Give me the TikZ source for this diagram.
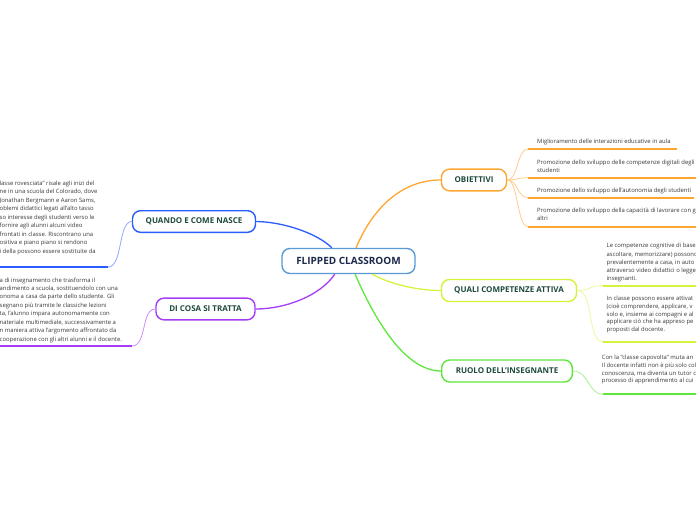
\documentclass[tikz,border=0pt]{standalone}
\usepackage{fontspec}
\setmainfont{Open Sans}
\usetikzlibrary{calc}
\definecolor{labelc}{HTML}{1E4A3C}
\definecolor{centrec}{HTML}{1B2A4A}
\definecolor{textc}{HTML}{3A3A3A}
\definecolor{cblue}{HTML}{5B9BD5}
\definecolor{qblue}{HTML}{2B5CFF}
\definecolor{qbluel}{HTML}{8AA8FF}
\definecolor{dpur}{HTML}{A63CF5}
\definecolor{dpurl}{HTML}{D08CFA}
\definecolor{oor}{HTML}{FFA630}
\definecolor{oorl}{HTML}{FFCD8A}
\definecolor{qyel}{HTML}{D8F23C}
\definecolor{qyell}{HTML}{EAF8A0}
\definecolor{rgrn}{HTML}{5EE63C}
\definecolor{rgrnl}{HTML}{A8F090}
\begin{document}
\begin{tikzpicture}[x=1pt,y=-1pt,
  topic/.style={draw, line width=1.4pt, rounded corners=8pt, fill=white, inner sep=0pt,
    font=\fontsize{8}{9}\selectfont\bfseries, text=labelc},
  desc/.style={anchor=north west, inner sep=0pt, align=left,
    font=\fontsize{5.9}{8}\selectfont, text=textc},
  descl/.style={desc, font=\fontsize{5.9}{8.45}\selectfont},
  mainlink/.style={line width=1.3pt},
  sublink/.style={line width=0.8pt},
  uline/.style={line width=2pt}]
\clip (0,0) rectangle (696,520);
\fill[white] (0,0) rectangle (696,520);

% main nodes
\node[topic, draw=cblue, text=centrec, minimum width=133pt, minimum height=25pt,
      font=\fontsize{10}{11}\selectfont\bfseries] (c) at (348.5,261) {FLIPPED CLASSROOM};
\node[topic, draw=qblue, minimum width=123pt, minimum height=21.6pt] (qn) at (194,221.5) {QUANDO E COME NASCE};
\node[topic, draw=dpur, minimum width=99pt, minimum height=21.7pt] (dc) at (205.5,309) {DI COSA SI TRATTA};
\node[topic, draw=oor, minimum width=65pt, minimum height=21.7pt] (ob) at (474,180) {OBIETTIVI};
\node[topic, draw=qyel, minimum width=135pt, minimum height=22pt] (qc) at (509,290.5) {QUALI COMPETENZE ATTIVA};
\node[topic, draw=rgrn, minimum width=130.6pt, minimum height=22pt] (ri) at (507,371) {RUOLO DELL'INSEGNANTE};

% main connectors
\draw[mainlink, qblue] ($(c.north west)!0.376!(c.north east)$) .. controls (318,234) and (285,222) .. (qn.east);
\draw[mainlink, dpur] ($(c.south west)!0.398!(c.south east)$) .. controls (320,296) and (285,309) .. (dc.east);
\draw[mainlink, oor] ($(c.north west)!0.556!(c.north east)$) .. controls (372,210) and (400,180) .. (ob.west);
\draw[mainlink, qyel] ($(c.south west)!0.677!(c.south east)$) .. controls (388,283) and (415,290.5) .. (qc.west);
\draw[mainlink, rgrn] ($(c.south west)!0.549!(c.south east)$) .. controls (375,320) and (405,371) .. (ri.west);

% left texts
\node[descl] (tq) at (-0.5,180.8) {lasse rovesciata” risale agli inizi del\\
ne in una scuola del Colorado, dove\\
Jonathan Bergmann e Aaron Sams,\\
oblemi didattici legati all'alto tasso\\
so interesse degli studenti verso le\\
fornire agli alunni alcuni video\\
frontati in classe. Riscontrano una\\
ositiva e piano piano si rendono\\
i della possono essere sostituite da};
\node[descl] (td) at (-0.5,277.3) {a di insegnamento che trasforma il\\
andimento a scuola, sostituendolo con una\\
onoma a casa da parte dello studente. Gli\\
segnano più tramite le classiche lezioni\\
ta, l'alunno impara autonomamente con\\
nateriale multimediale, successivamente a\\
n maniera attiva l'argomento affrontato da\\
cooperazione con gli altri alunni e il docente.};

\coordinate (uq1) at (-5,267);
\coordinate (uq2) at (108,267);
\coordinate (ud1) at (-5,346);
\coordinate (ud2) at (132,346);
\draw[uline, qblue] (uq1) -- (uq2);
\draw[sublink, qbluel] (qn.west) .. controls (118,221.5) and (123,267) .. (uq2);
\draw[uline, dpur] (ud1) -- (ud2);
\draw[sublink, dpurl] (dc.west) .. controls (141,309) and (147,346) .. (ud2);

% objectives
\node[desc] (o1) at (537,139) {Miglioramento delle interazioni educative in aula};
\node[desc] (o2) at (537,159.6) {Promozione dello sviluppo delle competenze digitali degli\\studenti};
\node[desc] (o3) at (537,188) {Promozione dello sviluppo dell'autonomia degli studenti};
\node[desc] (o4) at (537,207.3) {Promozione dello sviluppo della capacità di lavorare con gli\\altri};
\coordinate (a1) at (528,149);   \coordinate (b1) at (677,149);
\coordinate (a2) at (528,177.7); \coordinate (b2) at (700,177.7);
\coordinate (a3) at (528,197.7); \coordinate (b3) at (694,197.7);
\coordinate (a4) at (528,226.7); \coordinate (b4) at (700,226.7);
\foreach \i in {1,2,3,4}{
  \draw[sublink, oorl] (ob.east) .. controls ($(ob.east)+(11,0)$) and ($(a\i)+(-11,0)$) .. (a\i);
  \draw[uline, oor] (a\i) -- (b\i);
}

% competences
\node[desc, font=\fontsize{5.9}{8.2}\selectfont] (k1) at (606.5,243.3) {Le competenze cognitive di base\\
ascoltare, memorizzare) possono\\
prevalentemente a casa, in auto\\
attraverso video didattici o legge\\
insegnanti.};
\node[desc, font=\fontsize{5.9}{7.6}\selectfont] (k2) at (606.5,296.3) {In classe possono essere attivat\\
(cioè comprendere, applicare, v\\
solo e, insieme ai compagni e al\\
applicare ciò che ha appreso pe\\
proposti dal docente.};
\coordinate (ka1) at (603,285.5); \coordinate (kb1) at (700,285.5);
\coordinate (ka2) at (603,341.7); \coordinate (kb2) at (700,341.7);
\draw[sublink, qyell] (qc.east) .. controls (590,290.5) and (590,285.5) .. (ka1);
\draw[sublink, qyell] (qc.east) .. controls (594,290.5) and (587,341.7) .. (ka2);
\draw[uline, qyel] (ka1) -- (kb1);
\draw[uline, qyel] (ka2) -- (kb2);

% role
\node[desc, font=\fontsize{5.9}{7.6}\selectfont] (r1) at (601.7,355.3) {Con la “classe capovolta” muta an\\
Il docente infatti non è più solo col\\
conoscenza, ma diventa un tutor c\\
processo di apprendimento al cui};
\coordinate (ra) at (603,394.3); \coordinate (rb) at (700,394.3);
\draw[sublink, rgrnl] (ri.east) .. controls (589,371) and (588,394.3) .. (ra);
\draw[uline, rgrn] (ra) -- (rb);
\end{tikzpicture}
\end{document}
